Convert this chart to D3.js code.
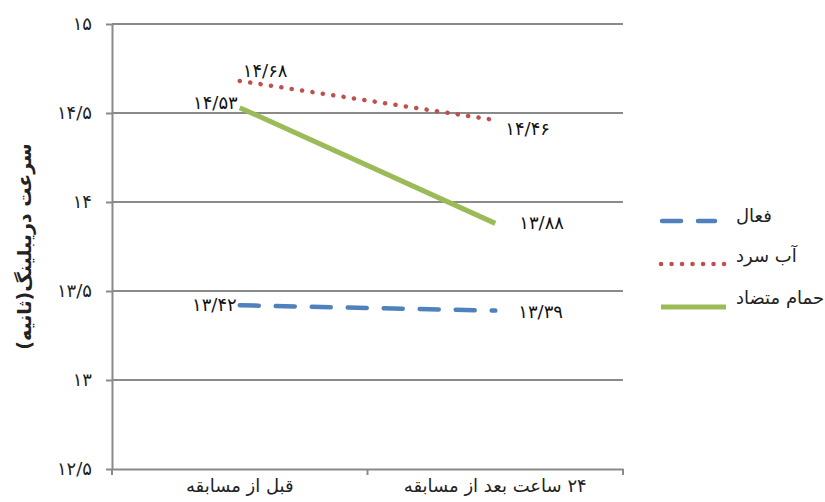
<!DOCTYPE html>
<html>
<head>
<meta charset="utf-8">
<script src="https://cdn.jsdelivr.net/npm/d3@7"></script>
<style>
  html, body { margin: 0; padding: 0; background: #fff; }
  svg { display: block; font-family: "DejaVu Sans", sans-serif; }
</style>
</head>
<body>
<svg id="chart" width="825" height="502"></svg>
<script>
// Dribbling speed (seconds) before and 24h after the match, per recovery method
const categories = ["قبل از مسابقه", "۲۴ ساعت بعد از مسابقه"];
const seriesNames = ["فعال", "آب سرد", "حمام متضاد"];
const activeValues = [13.42, 13.39];
const coldWaterValues = [14.68, 14.46];
const contrastBathValues = [14.53, 13.88];
const yTickValues = [12.5, 13, 13.5, 14, 14.5, 15];
const yAxisTitle = "سرعت دریبلینگ(ثانیه)";

const toPersian = v => String(v).replace(".", "/").replace(/\d/g, d => "۰۱۲۳۴۵۶۷۸۹"[+d]);

const svg = d3.select("#chart");
const margin = { left: 112, right: 623, top: 24, bottom: 469 };

const x = d3.scaleBand().domain(categories).range([margin.left, margin.right]);
const y = d3.scaleLinear().domain([12.5, 15]).range([margin.bottom, margin.top]);
const gridColor = "#8a8a8a";
const numFont = 18;

// horizontal gridlines
svg.append("g").selectAll("line").data(yTickValues.filter(v => v > 12.5)).join("line")
  .attr("x1", margin.left).attr("x2", margin.right)
  .attr("y1", d => y(d)).attr("y2", d => y(d))
  .attr("stroke", gridColor).attr("stroke-width", 2);

// y axis
const yAxis = svg.append("g").attr("transform", `translate(${margin.left},0)`)
  .call(d3.axisLeft(y).tickValues(yTickValues).tickFormat(toPersian).tickSize(6).tickSizeOuter(0));
yAxis.select(".domain").attr("stroke", gridColor).attr("stroke-width", 2);
yAxis.selectAll(".tick line").attr("stroke", gridColor).attr("stroke-width", 2);
yAxis.selectAll(".tick text")
  .attr("x", -20).attr("font-size", numFont).attr("fill", "#222")
  .attr("letter-spacing", 4)
  .attr("font-family", "DejaVu Sans");

// x axis (Persian labels laid out right-to-left)
const xAxis = svg.append("g").attr("transform", `translate(0,${margin.bottom})`)
  .call(d3.axisBottom(x).tickSize(0).tickSizeOuter(0));
xAxis.select(".domain").attr("stroke", gridColor).attr("stroke-width", 2);
xAxis.selectAll(".tick text").attr("dy", 0).attr("y", 23)
  .attr("direction", "rtl")
  .attr("font-size", 18).attr("fill", "#222")
  .attr("font-family", "DejaVu Sans");
// category boundary ticks
const bounds = [margin.left, margin.left + x.bandwidth(), margin.right];
xAxis.append("g").selectAll("line").data(bounds).join("line")
  .attr("x1", d => d).attr("x2", d => d).attr("y1", 0).attr("y2", 6)
  .attr("stroke", gridColor).attr("stroke-width", 2);

// axis title
svg.append("text")
  .attr("transform", `translate(24,${(margin.top + margin.bottom) / 2}) rotate(-90)`)
  .attr("direction", "rtl")
  .attr("text-anchor", "middle").attr("dominant-baseline", "central")
  .attr("font-size", 19).attr("font-weight", "bold").attr("fill", "#222")
  .text(yAxisTitle);

const series = [
  { name: seriesNames[0], values: activeValues, color: "#4f81bd", width: 4.5, dash: "19 17", cap: "round",
    labels: [{ anchor: "end", dx: -3, dy: -1 }, { anchor: "start", dx: 23, dy: 1 }] },
  { name: seriesNames[1], values: coldWaterValues, color: "#c0504d", width: 4.5, dash: "0.1 10.4", cap: "round",
    labels: [{ anchor: "start", dx: 3, dy: -10 }, { anchor: "start", dx: 10, dy: 9 }] },
  { name: seriesNames[2], values: contrastBathValues, color: "#9bbb59", width: 5, dash: null, cap: "butt",
    labels: [{ anchor: "end", dx: -2, dy: -5 }, { anchor: "start", dx: 24, dy: -1 }] }
];

const cx = c => x(c) + x.bandwidth() / 2;
const line = d3.line().x((d, i) => cx(categories[i])).y(d => y(d));

series.forEach(s => {
  svg.append("path").datum(s.values)
    .attr("d", line).attr("fill", "none")
    .attr("stroke", s.color).attr("stroke-width", s.width)
    .attr("stroke-linecap", s.cap)
    .attr("stroke-dasharray", s.dash);
  svg.append("g").selectAll("text").data(s.values).join("text")
    .attr("x", (d, i) => cx(categories[i]) + s.labels[i].dx)
    .attr("y", (d, i) => y(d) + s.labels[i].dy)
    .attr("dy", "0.35em")
    .attr("text-anchor", (d, i) => s.labels[i].anchor)
    .attr("font-size", numFont).attr("letter-spacing", 2).attr("fill", "#111")
    .text(d => toPersian(d));
});

// legend
const legendRows = [
  { lineY: 221, textY: 216 },
  { lineY: 264, textY: 256 },
  { lineY: 307, textY: 298 }
];
series.forEach((s, i) => {
  const r = legendRows[i];
  svg.append("line")
    .attr("x1", i === 0 ? 662 : 661).attr("x2", i === 0 ? 715 : 726)
    .attr("y1", r.lineY).attr("y2", r.lineY)
    .attr("stroke", s.color).attr("stroke-width", s.width)
    .attr("stroke-linecap", s.cap)
    .attr("stroke-dasharray", s.dash);
  svg.append("text")
    .attr("x", 736).attr("y", r.textY).attr("dy", "0.35em")
    .attr("text-anchor", "start")
    .attr("font-size", 18).attr("fill", "#222")
    .text(s.name);
});
</script>
</body>
</html>
